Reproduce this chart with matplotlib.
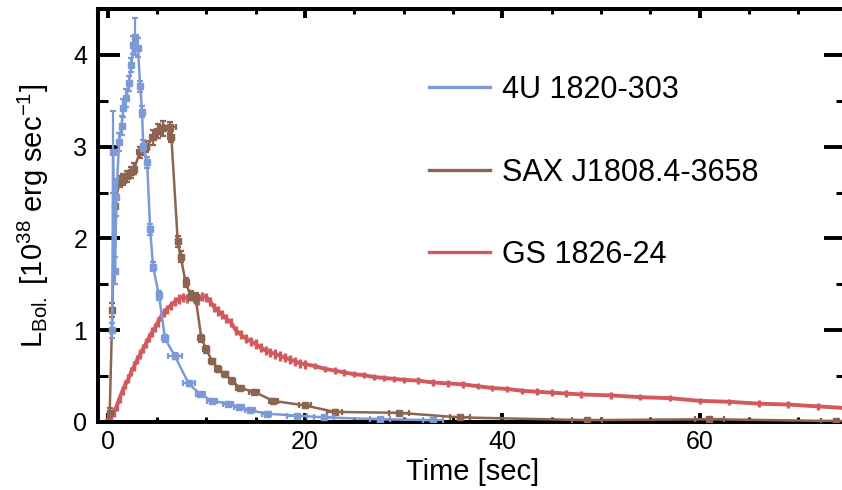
import matplotlib
matplotlib.use("Agg")
import matplotlib.pyplot as plt
from matplotlib.lines import Line2D
from matplotlib.ticker import MultipleLocator

plt.rcParams["font.family"] = ["Liberation Sans", "DejaVu Sans"]
plt.rcParams["mathtext.fontset"] = "custom"
plt.rcParams["mathtext.rm"] = "Liberation Sans"
plt.rcParams["mathtext.it"] = "Liberation Sans"

# 4U 1820-303
t_4u = [0.45, 0.55, 0.75, 0.88, 1.15, 1.4, 1.6, 1.9, 2.15, 2.4, 2.6, 2.8, 3.05,
        3.3, 3.48, 3.6, 4.0, 4.3, 4.6, 5.2, 5.8, 6.8, 8.2, 9.4, 10.6, 12.2,
        13.3, 14.4, 16.1, 19.2, 21.9, 27.6, 33.0]
l_4u = [1.0, 2.94, 1.65, 2.45, 3.05, 3.23, 3.42, 3.53, 3.69, 3.89, 4.11, 4.2,
        4.08, 3.66, 3.38, 3.01, 2.83, 2.1, 1.69, 1.38, 0.91, 0.72, 0.42, 0.3,
        0.23, 0.2, 0.16, 0.13, 0.09, 0.07, 0.05, 0.03, 0.02]
terr_4u = [0.05, 0.05, 0.05, 0.05, 0.1, 0.1, 0.1, 0.1, 0.1, 0.1, 0.1, 0.1, 0.1,
           0.1, 0.1, 0.1, 0.1, 0.2, 0.2, 0.25, 0.3, 0.7, 0.6, 0.5, 0.5, 0.5,
           0.5, 0.5, 0.5, 1.0, 1.0, 1.0, 1.0]
lerr_4u = [0.08, 0.45, 0.15, 0.2, 0.1, 0.1, 0.1, 0.1, 0.08, 0.08, 0.1, 0.2,
           0.1, 0.06, 0.06, 0.06, 0.06, 0.06, 0.05, 0.05, 0.04, 0.03, 0.03,
           0.02, 0.02, 0.02, 0.02, 0.02, 0.02, 0.01, 0.01, 0.01, 0.01]

# SAX J1808.4-3658
t_sax = [0.2, 0.47, 0.7, 1.2, 1.6, 2.0, 2.4, 2.7, 3.25, 3.9, 4.6, 5.1, 5.6,
         6.3, 6.45, 7.1, 7.4, 7.9, 8.4, 8.9, 9.5, 10.0, 10.6, 11.2, 11.9,
         12.6, 13.4, 14.8, 16.8, 20.0, 23.0, 29.5, 35.7, 48.6, 61.0, 73.8]
l_sax = [0.1, 1.22, 2.35, 2.62, 2.64, 2.68, 2.72, 2.76, 2.94, 3.0, 3.1, 3.17,
         3.2, 3.21, 3.11, 1.97, 1.8, 1.52, 1.38, 1.36, 0.91, 0.79, 0.66, 0.58,
         0.52, 0.45, 0.37, 0.33, 0.23, 0.18, 0.11, 0.1, 0.05, 0.02, 0.03, 0.01]
terr_sax = [0.1, 0.1, 0.1, 0.2, 0.2, 0.2, 0.2, 0.2, 0.3, 0.3, 0.3, 0.3, 0.3,
            0.6, 0.3, 0.2, 0.2, 0.2, 0.2, 0.3, 0.3, 0.3, 0.3, 0.3, 0.3, 0.3,
            0.4, 0.5, 0.5, 0.6, 0.8, 1.0, 1.0, 1.5, 1.5, 1.5]
lerr_sax = [0.05, 0.08, 0.1, 0.06, 0.06, 0.06, 0.06, 0.06, 0.06, 0.06, 0.08,
            0.08, 0.08, 0.06, 0.06, 0.06, 0.06, 0.05, 0.05, 0.05, 0.04, 0.04,
            0.03, 0.03, 0.03, 0.03, 0.02, 0.02, 0.02, 0.02, 0.02, 0.01, 0.01,
            0.01, 0.01, 0.01]

# GS 1826-24
t_gs = [0.0, 0.3, 0.6, 0.9, 1.2, 1.5, 1.8, 2.1, 2.4, 2.7, 3.0, 3.3, 3.6, 3.9,
        4.2, 4.5, 4.8, 5.1, 5.4, 5.7, 6.0, 6.4, 6.8, 7.2, 7.6, 8.0, 8.4, 8.8,
        9.2, 9.6, 10.0, 10.4, 10.8, 11.2, 11.6, 12.0, 12.5, 13.0, 13.5, 14.0,
        14.5, 15.0, 15.5, 16.0, 16.5, 17.0, 17.5, 18.0, 18.5, 19.0, 19.5, 20.0,
        21, 22, 23, 24, 25, 26, 27, 28, 29, 30, 31.5, 33, 34.5, 36, 37.5, 39,
        40.5, 42, 43.5, 45, 46.5, 48, 51, 54, 57, 60, 63, 66, 69, 72, 75]
l_gs = [0.03, 0.06, 0.10, 0.17, 0.26, 0.34, 0.41, 0.47, 0.55, 0.61, 0.68,
        0.74, 0.80, 0.86, 0.92, 0.98, 1.03, 1.09, 1.15, 1.19, 1.23, 1.27, 1.31,
        1.34, 1.36, 1.35, 1.37, 1.34, 1.33, 1.37, 1.36, 1.31, 1.25, 1.21, 1.17,
        1.13, 1.08, 1.00, 0.95, 0.91, 0.88, 0.85, 0.81, 0.78, 0.76, 0.74, 0.72,
        0.70, 0.68, 0.66, 0.64, 0.63, 0.61, 0.58, 0.56, 0.54, 0.52, 0.51, 0.49,
        0.48, 0.47, 0.46, 0.45, 0.43, 0.42, 0.41, 0.39, 0.37, 0.36, 0.34, 0.33,
        0.32, 0.31, 0.30, 0.29, 0.27, 0.26, 0.23, 0.22, 0.20, 0.19, 0.17, 0.15]
lerr_gs = [0.05] * 52 + [0.035] * 31

labels = ["4U 1820-303", "SAX J1808.4-3658", "GS 1826-24"]
colors = ["#7C9BD6", "#8C6450", "#D25A5E"]

fig = plt.figure(figsize=(8.42, 4.90), dpi=100)
ax = fig.add_axes([0.1168, 0.1388, 1.0048 - 0.1168, 0.9816 - 0.1388])

ax.errorbar(t_gs, l_gs, yerr=lerr_gs, color=colors[2], lw=2.8, elinewidth=2.4,
            capsize=0, zorder=2)
ax.errorbar(t_sax, l_sax, xerr=terr_sax, yerr=lerr_sax, color=colors[1],
            lw=1.8, elinewidth=1.6, capsize=2.5, capthick=1.6, marker="s",
            ms=4, zorder=3)
ax.errorbar(t_4u, l_4u, xerr=terr_4u, yerr=lerr_4u, color=colors[0],
            lw=1.8, elinewidth=1.6, capsize=2.5, capthick=1.6, marker="s",
            ms=4, zorder=4)

ax.set_xlim(-0.95, 74.85)
ax.set_ylim(0, 4.5)
ax.xaxis.set_major_locator(MultipleLocator(20))
ax.xaxis.set_minor_locator(MultipleLocator(5))
ax.yaxis.set_major_locator(MultipleLocator(1))
ax.yaxis.set_minor_locator(MultipleLocator(0.5))

for s in ax.spines.values():
    s.set_linewidth(2.9)
ax.tick_params(axis="both", which="both", direction="in", top=True,
               right=True, labelsize=18, colors="black")
ax.tick_params(axis="x", which="major", length=6.5, width=2.8, pad=6)
ax.tick_params(axis="x", which="minor", length=3.5, width=2.2)
ax.tick_params(axis="y", which="major", length=16, width=2.8, pad=8)
ax.tick_params(axis="y", which="minor", length=7, width=2.2)

ax.set_xlabel("Time [sec]", fontsize=21, labelpad=3)
ax.set_ylabel(r"L$_{\mathrm{Bol.}}$ [10$^{38}$ erg sec$^{-1}$]", fontsize=21,
              labelpad=16)

handles = [Line2D([], [], color=c, lw=2.4) for c in colors]
fig.legend(handles, labels, loc="upper left",
           bbox_to_anchor=(429 / 842, 1 - 75 / 490), frameon=False,
           fontsize=22, handlelength=2.0, handletextpad=0.38,
           labelspacing=1.72, borderpad=0, borderaxespad=0)

fig.savefig("out.png", dpi=100)
